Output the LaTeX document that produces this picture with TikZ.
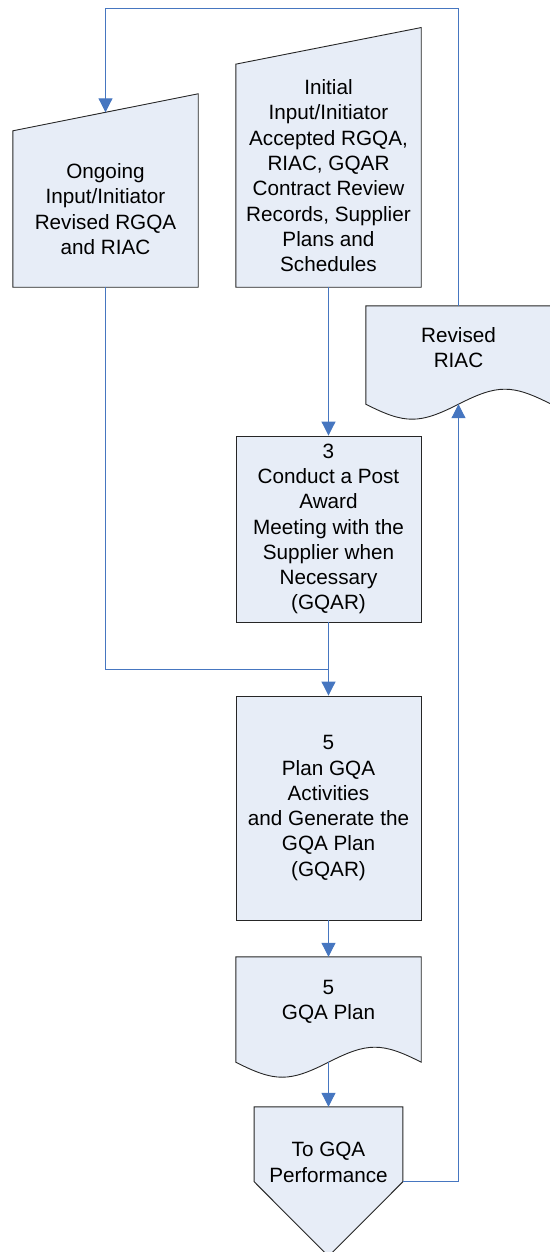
\documentclass[tikz,border=0pt]{standalone}
\usepackage{fontspec}
\setmainfont{Liberation Sans}
\usetikzlibrary{arrows.meta,calc,backgrounds}

\definecolor{shapefill}{RGB}{231,237,247}
\definecolor{edgegray}{RGB}{38,38,38}
\definecolor{linkblue}{RGB}{70,118,192}

\begin{document}
\begin{tikzpicture}[x=1pt,y=-1pt,
  shapebody/.style={draw=none, align=center, inner sep=0pt, text=black,
    font=\fontsize{20.7pt}{25.3pt}\selectfont, minimum width=185pt},
  shapeedge/.style={draw=edgegray, fill=shapefill, line width=0.9pt},
  link/.style={draw=linkblue, line width=1pt},
  flow/.style={link, -{Triangle[length=14pt,width=14pt]}},
]
\useasboundingbox (0,0) rectangle (549,1252);

% text-bearing bodies of the flowchart shapes
\node[shapebody, minimum height=156pt] (ongoing) at (105.5,209)
  {Ongoing\\Input/Initiator\\Revised RGQA\\and RIAC};
\node[shapebody, minimum height=222.7pt] (initial) at (328.5,175.7)
  {Initial\\Input/Initiator\\Accepted RGQA,\\RIAC, GQAR\\Contract Review\\Records, Supplier\\Plans and\\Schedules};
\node[shapebody, minimum height=83pt] (revised) at (458.5,347.5)
  {Revised\\RIAC};
\node[shapebody, shapeedge, minimum height=186pt] (meeting) at (328.5,529)
  {3\\Conduct a Post\\Award\\Meeting with the\\Supplier when\\Necessary\\(GQAR)};
\node[shapebody, shapeedge, minimum height=224pt] (plan) at (328.5,808)
  {5\\Plan GQA\\Activities\\and Generate the\\GQA Plan\\(GQAR)};
\node[shapebody, minimum height=90pt] (gqaplan) at (328.5,1002)
  {5\\GQA Plan};
\node[shapebody, minimum width=148.4pt, minimum height=111pt] (togqa) at (328.5,1162.5)
  {To GQA\\Performance};

% connection points on the non-rectangular outlines
\coordinate (ongoingtop) at ($(ongoing.north)+(0,-18.5)$);
\coordinate (revisedwave) at ($(revised.south)+(0,15)$);
\coordinate (gqaplanwave) at ($(gqaplan.south)+(0,15)$);
\coordinate (togqaside) at ($(togqa.south east)+(0,-36.5)$);
\coordinate (togqatip) at ($(togqa.south)+(0,38)$);
\coordinate (merge) at ($(meeting.south)+(0,47)$);
\coordinate (looptop) at ($(revised.north)+(0,-297.5)$);

\begin{scope}[on background layer]
  % manual input shapes (slanted tops)
  \draw[shapeedge] (ongoing.south west) -- (ongoing.north west)
    -- ($(ongoing.north east)+(0,-37)$) -- (ongoing.south east) -- cycle;
  \draw[shapeedge] (initial.south west) -- (initial.north west)
    -- ($(initial.north east)+(0,-36.6)$) -- (initial.south east) -- cycle;
  % document shapes (wavy bottoms)
  \draw[shapeedge] ($(revised.south west)+(0,15)$) -- (revised.north west)
    -- (revised.north east) -- ($(revised.south east)+(0,15)$)
    .. controls +(-39.2,-20) and +(39.2,-20) .. (revisedwave)
    .. controls +(-39.2,20) and +(39.2,20) .. ($(revised.south west)+(0,15)$) -- cycle;
  \draw[shapeedge] ($(gqaplan.south west)+(0,15)$) -- (gqaplan.north west)
    -- (gqaplan.north east) -- ($(gqaplan.south east)+(0,15)$)
    .. controls +(-39.2,-20) and +(39.2,-20) .. (gqaplanwave)
    .. controls +(-39.2,20) and +(39.2,20) .. ($(gqaplan.south west)+(0,15)$) -- cycle;
  % off-page reference
  \draw[shapeedge] (togqa.north west) -- (togqa.north east) -- (togqaside)
    -- (togqatip) -- ($(togqa.south west)+(0,-36.5)$) -- cycle;
\end{scope}

% connectors
\draw[flow] (initial.south) -- (meeting.north);
\draw[flow] (meeting.south) -- (plan.north);
\draw[link] (ongoing.south) |- (merge);
\draw[flow] (plan.south) -- (gqaplan.north);
\draw[flow] (gqaplanwave) -- (togqa.north);
\draw[flow] (togqaside) -| (revisedwave);
\draw[flow] (revised.north) -- (looptop) -| (ongoingtop);
\end{tikzpicture}
\end{document}
